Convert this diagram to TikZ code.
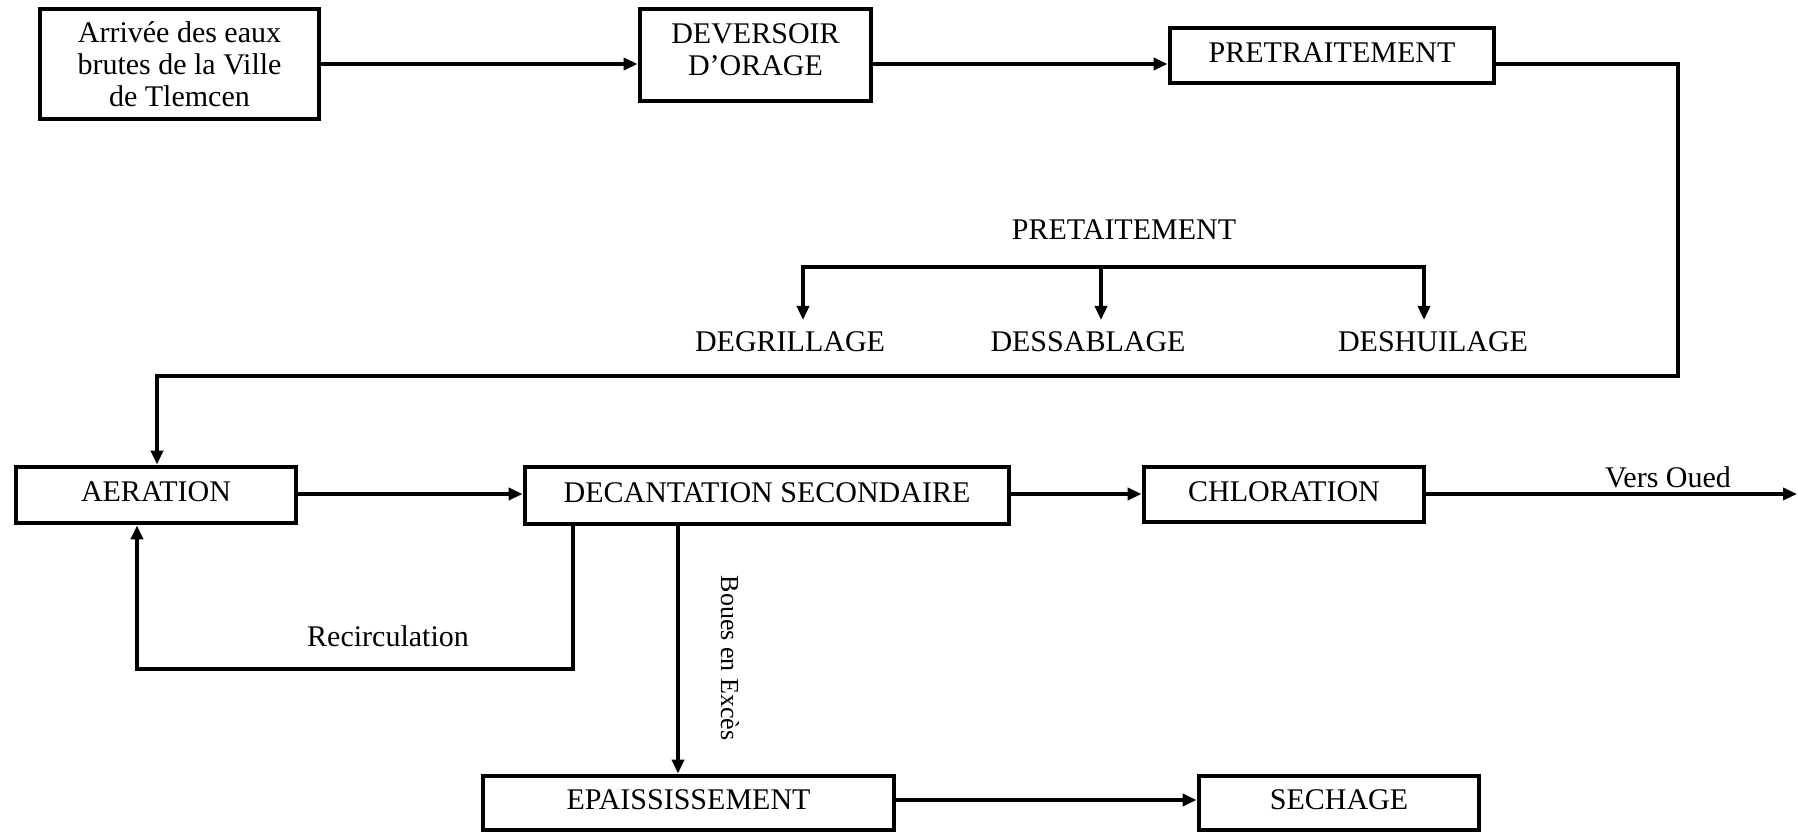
\documentclass[tikz,border=0pt]{standalone}
\usepackage{fontspec}
\setmainfont{Liberation Serif}
\usetikzlibrary{arrows.meta}
\begin{document}
\begin{tikzpicture}[x=0.5pt,y=-0.5pt,
  txt/.style={inner sep=0pt, align=center, font=\fontsize{15}{16}\selectfont},
  box/.style={txt, draw, line width=2.4pt, text depth=3pt},
  tip/.tip={Triangle[length=7pt,width=6pt]},
  line/.style={line width=1.9pt, line join=miter},
  conn/.style={line, -tip}]
\useasboundingbox (0,0) rectangle (1798,833);
% top row
\node[box, text depth=0pt, minimum width=139.5pt, minimum height=55pt] (src) at (179.5,64) {Arrivée des eaux\\brutes de la Ville\\de Tlemcen};
\node[box, text depth=5.5pt, minimum width=115.5pt, minimum height=46pt] (dev) at (755.5,55) {DEVERSOIR\\D’ORAGE};
\node[box, minimum width=162pt, minimum height=27.5pt] (pre) at (1332,55.5) {PRETRAITEMENT};
\draw[conn] (src.east |- 0,64) -- (dev.west |- 0,64);
\draw[conn] (dev.east |- 0,64) -- (pre.west |- 0,64);
% pretreatment detail
\node[txt] (subt) at (1124,230) {PRETAITEMENT};
\node[txt] (deg) at (790,342) {DEGRILLAGE};
\node[txt] (des) at (1088,342) {DESSABLAGE};
\node[txt] (deh) at (1433,342) {DESHUILAGE};
\coordinate (b1) at (803,267);
\coordinate (b2) at (1101,267);
\coordinate (b3) at (1424,267);
\coordinate (t1) at (803,320);
\coordinate (t2) at (1101,320);
\coordinate (t3) at (1424,320);
\draw[line, tip-tip] (t1) -- (b1) -- (b3) -- (t3);
\draw[conn] (b2) -- (t2);
% middle row
\node[box, minimum width=140pt, minimum height=28pt] (aer) at (156,495) {AERATION};
\node[box, minimum width=242pt, minimum height=28.5pt] (dec) at (767,495.5) {DECANTATION SECONDAIRE};
\node[box, minimum width=140pt, minimum height=27.5pt] (chl) at (1284,494.5) {CHLORATION};
\coordinate (c1) at (1678,64);
\coordinate (c2) at (1678,376);
\coordinate (c3) at (157,376);
\draw[conn] (pre.east |- c1) -- (c1) -- (c2) -- (c3) -- (c3 |- aer.north);
\draw[conn] (aer.east |- 0,494) -- (dec.west |- 0,494);
\draw[conn] (dec.east |- 0,494) -- (chl.west |- 0,494);
\coordinate (out) at (1797,494);
\draw[conn] (chl.east |- out) -- (out);
\node[txt] (vo) at (1668,477) {Vers Oued};
% recirculation
\coordinate (r1) at (573,669);
\coordinate (r2) at (137,669);
\draw[conn] (dec.south -| r1) -- (r1) -- (r2) -- (r2 |- aer.south);
\node[txt] (rec) at (388,636) {Recirculation};
% bottom row
\node[box, minimum width=205.5pt, minimum height=27pt] (epa) at (688.5,803) {EPAISSISSEMENT};
\node[box, minimum width=140pt, minimum height=27pt] (sec) at (1339,803) {SECHAGE};
\coordinate (bx) at (678,0);
\draw[conn] (dec.south -| bx) -- (epa.north -| bx);
\node[txt, font=\fontsize{13}{14}\selectfont, rotate=-90] (boues) at (730,658) {Boues en Excès};
\draw[conn] (epa.east |- 0,800) -- (sec.west |- 0,800);
\end{tikzpicture}
\end{document}
